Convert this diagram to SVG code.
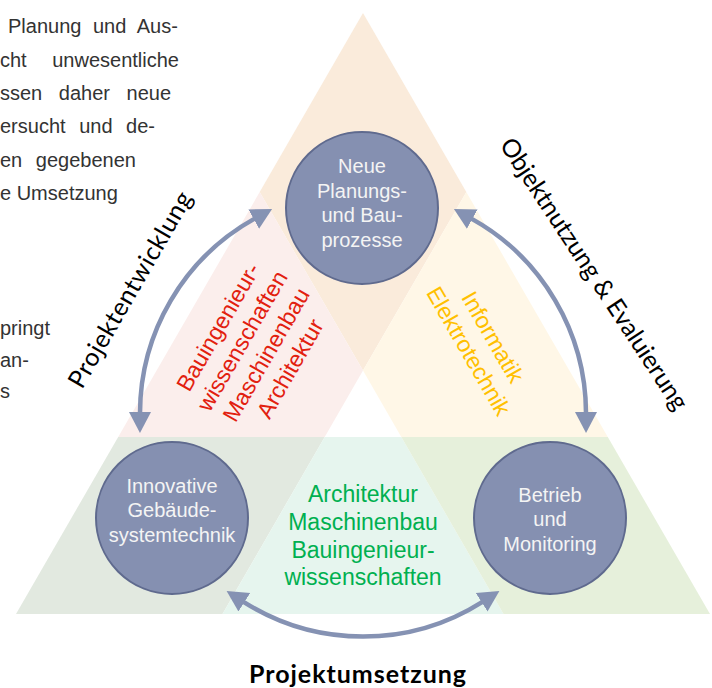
<svg xmlns="http://www.w3.org/2000/svg" width="712" height="688" viewBox="0 0 712 688">
  <defs>
    <style>
      .body { font-family: "Liberation Sans", Arial, sans-serif; font-size: 20px; fill: #333333; }
      .node circle { fill: #8590B1; stroke: #5F6A8E; stroke-width: 2; }
      .node text { font-family: "Liberation Sans", Arial, sans-serif; font-size: 20px; fill: #F4F4F4; text-anchor: middle; }
      .disc { font-family: "Liberation Sans", Arial, sans-serif; font-size: 23px; text-anchor: middle; }
      .phase { font-family: Lato, "Open Sans", sans-serif; font-size: 25px; fill: #000; }
      .link { fill: none; stroke: #8592B3; stroke-width: 4.5; marker-start: url(#head); marker-end: url(#head); }
    </style>
    <marker id="head" markerUnits="userSpaceOnUse" viewBox="0 -12 22 24" markerWidth="22" markerHeight="24" refX="1" refY="0" orient="auto-start-reverse">
      <path d="M0,-11 L21,0 L0,11 z" fill="#8592B3"/>
    </marker>
  </defs>

  <!-- surrounding paragraph fragments, justified against the slanted edge -->
  <g id="paragraph">
    <text class="body" x="8" y="33" word-spacing="6">Planung und Aus-</text>
    <text class="body" x="0" y="67" word-spacing="20">cht unwesentliche</text>
    <text class="body" x="0" y="100" word-spacing="11">ssen daher neue</text>
    <text class="body" x="0" y="133" word-spacing="8">ersucht und de-</text>
    <text class="body" x="0" y="167" word-spacing="8">en gegebenen</text>
    <text class="body" x="0" y="200">e Umsetzung</text>
    <text class="body" x="0" y="335">pringt</text>
    <text class="body" x="0" y="367">an-</text>
    <text class="body" x="0" y="398">s</text>
  </g>

  <!-- triangle divided into coloured fields -->
  <g id="fields">
    <polygon points="363,13 259.7,192 363,370.6 466.3,192" fill="#FAEBDB"/>
    <polygon points="259.7,192 363,370.6 324.7,437 118.2,437" fill="#FBEEEC"/>
    <polygon points="466.3,192 607.8,437 401.3,437 363,370.6" fill="#FFF7E7"/>
    <polygon points="118.2,437 324.7,437 222.5,614 16,614" fill="#E2E9E0"/>
    <polygon points="324.7,437 401.3,437 503.5,614 222.5,614" fill="#E6F5EE"/>
    <polygon points="401.3,437 607.8,437 710,614 503.5,614" fill="#E6F0DB"/>
  </g>

  <!-- discipline labels -->
  <g id="disc-left" class="disc" fill="#E2200F" transform="translate(225,331) rotate(-60)">
    <text x="0" y="0">Bauingenieur-</text>
    <text x="0" y="27.7">wissenschaften</text>
    <text x="0" y="55.4">Maschinenbau</text>
    <text x="0" y="83.1">Architektur</text>
  </g>
  <g id="disc-right" class="disc" fill="#FFC000" transform="translate(486,341) rotate(60)">
    <text x="0" y="0">Informatik</text>
    <text x="0" y="28">Elektrotechnik</text>
  </g>
  <g id="disc-bottom" class="disc" fill="#00B050">
    <text x="363" y="502">Architektur</text>
    <text x="363" y="530">Maschinenbau</text>
    <text x="363" y="558">Bauingenieur-</text>
    <text x="363" y="585">wissenschaften</text>
  </g>

  <!-- cycle connectors: arcs around the triangle centre (363,413.5), r = 223 -->
  <g id="connectors">
    <path class="link" d="M140,413.1 A223,223 0 0 1 254.6,218.6"/>
    <path class="link" d="M471.4,218.6 A223,223 0 0 1 586,413.1"/>
    <path class="link" d="M482.5,601.8 A223,223 0 0 1 243.5,601.8"/>
  </g>

  <!-- phase labels -->
  <g id="phase-left">
    <text class="phase" transform="translate(82,390) rotate(-60)" textLength="222" lengthAdjust="spacing">Projektentwicklung</text>
  </g>
  <g id="phase-right">
    <text class="phase" transform="translate(499,145) rotate(56.6)" textLength="320" lengthAdjust="spacing">Objektnutzung &amp; Evaluierung</text>
  </g>
  <g id="phase-bottom">
    <text class="phase" x="249" y="683" font-weight="700" textLength="217" lengthAdjust="spacing">Projektumsetzung</text>
  </g>

  <!-- nodes -->
  <g id="node-planung" class="node">
    <circle cx="362" cy="208" r="76"/>
    <text x="362" y="173">Neue</text>
    <text x="362" y="198">Planungs-</text>
    <text x="362" y="222">und Bau-</text>
    <text x="362" y="247">prozesse</text>
  </g>
  <g id="node-gebaeude" class="node">
    <circle cx="172" cy="518" r="76"/>
    <text x="172" y="493">Innovative</text>
    <text x="172" y="517">Gebäude-</text>
    <text x="172" y="542">systemtechnik</text>
  </g>
  <g id="node-betrieb" class="node">
    <circle cx="550" cy="518" r="76"/>
    <text x="550" y="502">Betrieb</text>
    <text x="550" y="526">und</text>
    <text x="550" y="551">Monitoring</text>
  </g>
</svg>
